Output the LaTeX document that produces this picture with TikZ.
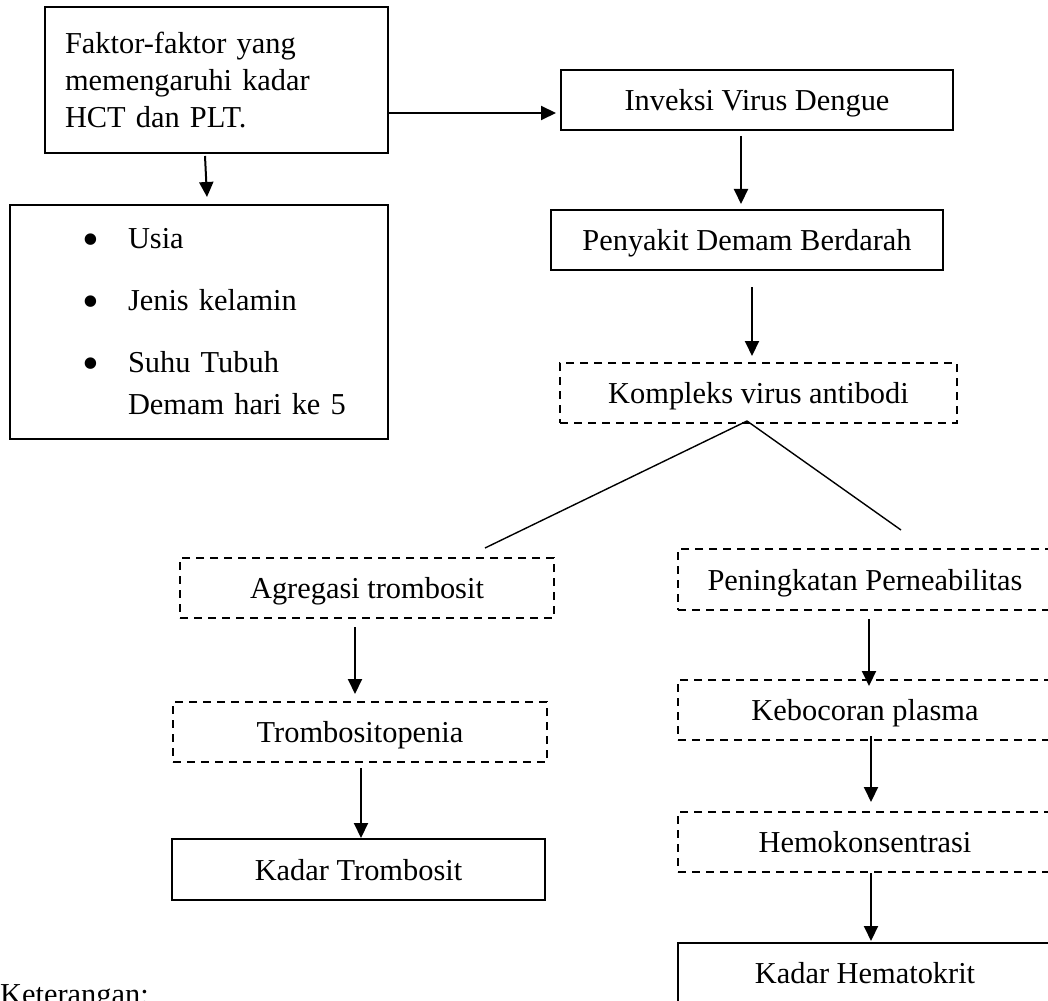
\documentclass[tikz,border=0pt]{standalone}
\usepackage{fontspec}
\setmainfont{Liberation Serif}
\usepackage{tikz}
\usetikzlibrary{arrows.meta}

\newcommand{\butir}{\hspace*{62pt}\makebox[46pt][l]{\raisebox{-7pt}{\fontsize{48}{42}\selectfont\textbullet}}}

\tikzset{
  kotak/.style={draw,line width=2pt,inner sep=0pt,text height=27pt,text depth=6pt,
    minimum width=374pt,minimum height=60pt,font=\fontsize{30.4}{37}\selectfont},
  putus/.style={kotak,dash pattern=on 8pt off 6pt},
  panah/.style={line width=2pt,-{Triangle[width=14pt,length=15pt]}},
  garis/.style={line width=1.4pt}
}

\begin{document}
\begin{tikzpicture}[x=1pt,y=-1pt]
\useasboundingbox (0,0) rectangle (1048,1000);
\clip (0,0) rectangle (1048,1000);

\node [draw,line width=2pt,minimum width=343pt,minimum height=146pt,inner xsep=20pt,
  text width=303pt,align=left,font=\fontsize{30.4}{37}\selectfont] (faktor) at (216.5,80)
  {Faktor-faktor yang\\memengaruhi kadar\\HCT dan PLT.};
\node [draw,line width=2pt,minimum width=378pt,minimum height=234pt,inner xsep=10pt,
  text width=358pt,align=left,font=\fontsize{30.4}{42}\selectfont] (faktor2) at (199,322)
  {\butir Usia\\[20pt]
   \butir Jenis kelamin\\[20pt]
   \butir Suhu Tubuh\\
   \hspace*{108pt}Demam hari ke 5};

\node [kotak,minimum width=392pt] (infeksi) at (757,100) {Inveksi Virus Dengue};
\node [kotak,minimum width=392pt] (dbd) at (747,240) {Penyakit Demam Berdarah};
\node [putus,minimum width=397pt] (kompleks) at (758.5,393) {Kompleks virus antibodi};

\node [putus] (agregasi) at (367,588) {Agregasi trombosit};
\node [putus] (tromb) at (360,732) {Trombositopenia};
\node [kotak,minimum width=373pt,minimum height=61pt] (plt) at (358.5,869.5) {Kadar Trombosit};

\node [putus,minimum height=61pt] (perm) at (865,579.5) {Peningkatan Perneabilitas};
\node [putus] (bocor) at (865,710) {Kebocoran plasma};
\node [putus] (hemo) at (865,842) {Hemokonsentrasi};
\node [kotak] (hct) at (865,973) {Kadar Hematokrit};

\node [anchor=base west,inner sep=0pt,font=\fontsize{30.4}{37}\selectfont] (ket) at (0,1004) {Keterangan:};

\draw[panah] ([xshift=-11.5pt,yshift=-2pt]faktor.south) -- ([xshift=8pt,yshift=7pt]faktor2.north);
\draw[panah] ([yshift=-33pt]faktor.east) -- ([xshift=-4pt,yshift=-13pt]infeksi.west);

\draw[panah] ([xshift=-16pt,yshift=-5pt]infeksi.south) -- ([xshift=-6pt,yshift=5pt]dbd.north);
\draw[panah] ([xshift=5pt,yshift=-16pt]dbd.south) -- ([xshift=-6.5pt,yshift=6pt]kompleks.north);

\draw[garis] ([xshift=-11.5pt,yshift=3pt]kompleks.south) -- ([xshift=118pt,yshift=9pt]agregasi.north);
\draw[garis] ([xshift=-11.5pt,yshift=3pt]kompleks.south) -- ([xshift=36pt,yshift=18pt]perm.north);

\draw[panah] ([xshift=-12pt,yshift=-8pt]agregasi.south) -- ([xshift=-5pt,yshift=7pt]tromb.north);
\draw[panah] ([xshift=1pt,yshift=-5pt]tromb.south) -- ([xshift=2.5pt]plt.north);

\draw[panah] ([xshift=4pt,yshift=-8pt]perm.south) -- ([xshift=4pt,yshift=-7pt]bocor.north);
\draw[panah] ([xshift=6pt,yshift=5pt]bocor.south) -- ([xshift=6pt,yshift=9pt]hemo.north);
\draw[panah] ([xshift=6pt]hemo.south) -- ([xshift=6pt,yshift=1pt]hct.north);

\end{tikzpicture}
\end{document}
